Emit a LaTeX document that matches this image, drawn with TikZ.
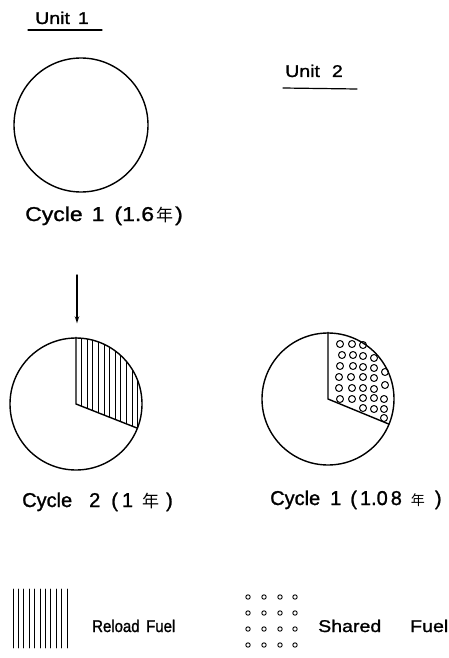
\documentclass[tikz,border=0pt]{standalone}
\usepackage{fontspec}
\setmainfont{Liberation Sans}[FakeStretch=1.15,FakeBold=1.2]
\newfontfamily\narrowfont{Liberation Sans}[FakeBold=1.2]
\newfontfamily\condfont{Liberation Sans}[FakeStretch=0.88,FakeBold=1.2]
\newfontfamily\cjk{Noto Sans CJK JP}
\usetikzlibrary{arrows.meta}
\begin{document}
\begin{tikzpicture}[x=1pt,y=-1pt,line cap=round,line join=round,
  outline/.style={line width=1.4pt},
  unitlbl/.style={font=\fontsize{17}{19}\selectfont,inner sep=0pt,anchor=base west},
  cyclbl/.style={font=\fontsize{20}{22}\selectfont,inner sep=0pt,anchor=base west},
  cyclblb/.style={font=\narrowfont\fontsize{20}{22}\selectfont,inner sep=0pt,anchor=base west},
  leg/.style={font=\condfont\fontsize{17}{19}\selectfont,inner sep=0pt,anchor=base west},
  legb/.style={font=\fontsize{17}{19}\selectfont,inner sep=0pt,anchor=base west},
  hatch/.style={line width=0.9pt},
  ring/.style={line width=1pt},
  dot/.style={line width=0.9pt},
  pie/.style={circle,draw,outline,inner sep=0pt,minimum size=#1}]
\useasboundingbox (0,0) rectangle (449,658);
\fill[white] (0,0) rectangle (449,658);

% Unit titles
\node[unitlbl] (u1) at (35,24) {Unit\hspace{8pt}1};
\draw[line width=1.2pt] (28,30) -- (102,30);
\node[unitlbl] (u2) at (285,77) {Unit\hspace{12pt}2};
\draw[line width=1.2pt] (283,88) -- (357,89);

% Unit 1, cycle 1
\node[pie=134pt] (c1) at (81,125) {};
\node[cyclbl] (l1) at (25,221) {Cycle\hspace{9pt}1\hspace{10pt}(1.6\hspace{2pt}{\cjk\fontsize{17}{18}\selectfont 年}\hspace{2pt})};

% Unit 1, cycle 2
\begin{scope}
\clip (76,404) -- (76,338) arc[start angle=90,end angle=-21.5,radius=66pt] -- cycle;
\foreach \k in {1,...,12} \draw[hatch] ({76+\k*5.6},330) -- ({76+\k*5.6},440);
\end{scope}
\node[pie=132pt] (p2) at (76,404) {};
\draw[outline] (p2.north) -- (p2.center) -- ++(-21.5:66pt);
\coordinate (arrtail) at (77,275);
\draw[line width=1.4pt,-{Stealth[length=7pt,width=4.5pt]},shorten >=14pt] (arrtail) -- (p2.north -| arrtail);
\node[cyclblb] (l2) at (22,507) {Cycle\hspace{17pt}2\hspace{11pt}(\hspace{4pt}1\hspace{9pt}{\cjk\fontsize{17}{18}\selectfont 年}\hspace{7pt})};

% Unit 2, cycle 1
\node[pie=132pt] (p3) at (328,399) {};
\draw[outline] (p3.north) -- (p3.center) -- ++(-22.4:66pt);
\foreach \px/\py in {340/344,352/344,363/345,
  342/355,353/355,363/356,374/358,
  340/366,353/366,363/367,374/368,385/372,
  339/377,351/377,363/377,374/378,
  385/385,
  339/388,352/388,363/388,374/389,
  340/399,352/399,363/398,374/398,384/399,
  363/408,374/409,384/409,
  384/418}
  \draw[ring] (\px,\py) circle[radius=3.5pt];
\node[cyclblb] (l3) at (270,505) {Cycle\hspace{10pt}1\hspace{9pt}(\hspace{3pt}1.0\hspace{3pt}8\hspace{9pt}{\cjk\fontsize{14}{16}\selectfont 年}\hspace{10pt})};

% Legend
\foreach \k in {0,...,10} \draw[hatch] ({13+\k*5.4},589) -- ({13+\k*5.4},648);
\node[leg] (rl) at (92,632) {Reload};
\node[leg] (rf) at (146,632) {Fuel};
\foreach \px in {248,264,280,295}
  \foreach \py in {597,613,629,645}
    \draw[dot] (\px,\py) circle[radius=2.2pt];
\node[legb] (sl) at (318,632) {Shared};
\node[legb] (sf) at (410,632) {Fuel};
\end{tikzpicture}
\end{document}
